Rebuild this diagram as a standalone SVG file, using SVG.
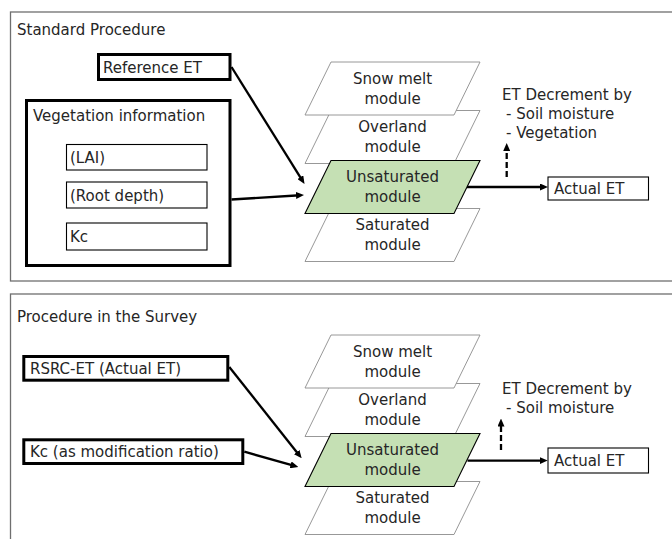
<svg xmlns="http://www.w3.org/2000/svg" width="672" height="539" viewBox="0 0 672 539">
  <style>
    text { font-family: "DejaVu Sans", "Liberation Sans", sans-serif; font-size: 15px; fill: #262626; }
    .mid { text-anchor: middle; }
    .panel { fill: #ffffff; stroke: #6f6f6f; stroke-width: 1.3; }
    .thick { fill: #ffffff; stroke: #000000; stroke-width: 3; }
    .thin { fill: #ffffff; stroke: #000000; stroke-width: 1.1; }
    .module { fill: #ffffff; stroke: #8c8c8c; stroke-width: 0.9; }
    .active { fill: #c5e0b4; stroke: #000000; stroke-width: 1.1; }
    .arrow { fill: none; stroke: #000000; stroke-width: 2.3; marker-end: url(#head); }
    .dashed { stroke-dasharray: 6 3; }
  </style>
  <defs>
    <marker id="head" viewBox="0 0 8 7" refX="4" refY="3.5" markerWidth="8" markerHeight="7" markerUnits="userSpaceOnUse" orient="auto">
      <path d="M0,0 L8,3.5 L0,7 z" fill="#000000"/>
    </marker>
  </defs>

  <!-- ===== Upper panel ===== -->
  <g id="panel-standard">
    <rect class="panel" x="10.5" y="12" width="680" height="269"/>
    <text x="17" y="35">Standard Procedure</text>
  </g>

  <g id="reference-et">
    <rect class="thick" x="98.5" y="54.5" width="131.5" height="25"/>
    <text x="103" y="72.5">Reference ET</text>
  </g>

  <g id="vegetation-information">
    <rect class="thick" x="26.5" y="100.5" width="203.5" height="165"/>
    <text x="33" y="120.5">Vegetation information</text>
    <g id="veg-lai">
      <rect class="thin" x="66.5" y="144.5" width="140.5" height="25.5"/>
      <text x="70" y="162.5">(LAI)</text>
    </g>
    <g id="veg-root-depth">
      <rect class="thin" x="66.5" y="182" width="140.5" height="26"/>
      <text x="70" y="200.5">(Root depth)</text>
    </g>
    <g id="veg-kc">
      <rect class="thin" x="66.5" y="223" width="140.5" height="27"/>
      <text x="70" y="241.7">Kc</text>
    </g>
  </g>

  <!-- module stack, lower layers first -->
  <g id="std-saturated">
    <polygon class="module" points="331,208.5 480,208.5 454,261.5 305,261.5"/>
    <text class="mid" x="392.5" y="230">Saturated</text>
    <text class="mid" x="392.5" y="250">module</text>
  </g>
  <g id="std-overland">
    <polygon class="module" points="331,110.5 480,110.5 454,163.5 305,163.5"/>
    <text class="mid" x="392.5" y="132">Overland</text>
    <text class="mid" x="392.5" y="152">module</text>
  </g>
  <g id="std-snowmelt">
    <polygon class="module" points="331,62 480,62 454,115 305,115"/>
    <text class="mid" x="392.5" y="83.5">Snow melt</text>
    <text class="mid" x="392.5" y="103.5">module</text>
  </g>
  <g id="std-unsaturated">
    <polygon class="active" points="331,160.5 480,160.5 454,213.5 305,213.5"/>
    <text class="mid" x="392.5" y="182">Unsaturated</text>
    <text class="mid" x="392.5" y="202">module</text>
  </g>

  <g id="std-decrement">
    <text x="502" y="99.5">ET Decrement by</text>
    <text x="506" y="118.8">- Soil moisture</text>
    <text x="506" y="138.1">- Vegetation</text>
  </g>

  <g id="std-actual-et">
    <rect class="thin" x="548" y="177" width="100.5" height="23"/>
    <text x="554" y="193.5">Actual ET</text>
  </g>

  <!-- ===== Lower panel ===== -->
  <g id="panel-survey">
    <rect class="panel" x="10.5" y="294" width="680" height="260"/>
    <text x="17" y="322">Procedure in the Survey</text>
  </g>

  <g id="rsrc-et">
    <rect class="thick" x="23.8" y="356.5" width="204" height="23.7"/>
    <text x="30" y="373.5">RSRC-ET (Actual ET)</text>
  </g>

  <g id="kc-ratio">
    <rect class="thick" x="23.8" y="439.8" width="219" height="23.7"/>
    <text x="30" y="457">Kc (as modification ratio)</text>
  </g>

  <g id="srv-saturated">
    <polygon class="module" points="331,481.5 480,481.5 454,534.5 305,534.5"/>
    <text class="mid" x="392.5" y="503">Saturated</text>
    <text class="mid" x="392.5" y="523">module</text>
  </g>
  <g id="srv-overland">
    <polygon class="module" points="331,383.5 480,383.5 454,436.5 305,436.5"/>
    <text class="mid" x="392.5" y="405">Overland</text>
    <text class="mid" x="392.5" y="425">module</text>
  </g>
  <g id="srv-snowmelt">
    <polygon class="module" points="331,335 480,335 454,388 305,388"/>
    <text class="mid" x="392.5" y="356.5">Snow melt</text>
    <text class="mid" x="392.5" y="376.5">module</text>
  </g>
  <g id="srv-unsaturated">
    <polygon class="active" points="331,433.5 480,433.5 454,486.5 305,486.5"/>
    <text class="mid" x="392.5" y="455">Unsaturated</text>
    <text class="mid" x="392.5" y="475">module</text>
  </g>

  <g id="srv-decrement">
    <text x="502" y="393.5">ET Decrement by</text>
    <text x="506" y="412.5">- Soil moisture</text>
  </g>

  <g id="srv-actual-et">
    <rect class="thin" x="548" y="448" width="100.5" height="25"/>
    <text x="554" y="466">Actual ET</text>
  </g>

  <!-- ===== Connectors ===== -->
  <g id="connectors">
    <path class="arrow" d="M231.5,67 L302.4,180.6"/>
    <path class="arrow" d="M231.5,199.5 L300,195.25"/>
    <path class="arrow" d="M467,187 L544,187"/>
    <path class="arrow dashed" d="M506.7,177 L506.7,147"/>

    <path class="arrow" d="M229.3,367 L299.2,455.2"/>
    <path class="arrow" d="M244.3,451.7 L294.5,465.9"/>
    <path class="arrow" d="M467.5,460.6 L543.7,460.6"/>
    <path class="arrow dashed" d="M501,450 L501,422.5"/>
  </g>
</svg>
